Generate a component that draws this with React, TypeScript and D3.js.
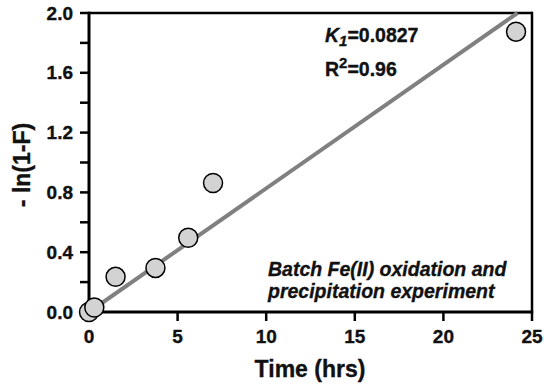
import React from "react";
import * as d3 from "d3";

const timeHrs = [0, 0.3, 1.5, 3.75, 5.6, 7.0, 24.1];
const lnValues = [0.0, 0.03, 0.235, 0.295, 0.497, 0.863, 1.875];
const slopeK = 0.0827;
const xTicks = [0, 5, 10, 15, 20, 25];
const yMajorTicks = [0, 0.4, 0.8, 1.2, 1.6, 2.0];
const yMinorTicks = [0.2, 0.6, 1.0, 1.4, 1.8];

const W = 544, H = 389;
const L = 89, R = 532, T = 13, B = 312;

export default function App() {
  const x = d3.scaleLinear().domain([0, 25]).range([L, R]);
  const y = d3.scaleLinear().domain([0, 2]).range([B, T]);
  const xEnd = 2 / slopeK;
  const fitLine = d3.line<number>().x((d) => x(d)).y((d) => y(slopeK * d))([0, xEnd]);
  const font = "Arial, 'Liberation Sans', Helvetica, sans-serif";
  const txt = { fontWeight: "bold" as const, fill: "#111", stroke: "#111", strokeWidth: 0.35 };
  return (
    <svg width={W} height={H} style={{ position: "absolute", left: 0, top: 0 }} fontFamily={font}>
      <rect x={0} y={0} width={W} height={H} fill="white" />
      {/* frame */}
      <line x1={L} x2={R} y1={T} y2={T} stroke="black" strokeWidth={2.5} />
      <line x1={R} x2={R} y1={T - 1.2} y2={B} stroke="black" strokeWidth={2.5} />
      <line x1={L} x2={R + 1.2} y1={B} y2={B} stroke="black" strokeWidth={3} />
      <line x1={L} x2={L} y1={T - 1.2} y2={B + 1.5} stroke="black" strokeWidth={3} />
      {/* x ticks */}
      {xTicks.map((t) => (
        <g key={"x" + t}>
          <line x1={x(t)} x2={x(t)} y1={B} y2={B + 9} stroke="black" strokeWidth={2.5} />
          <text x={x(t)} y={342.5} textAnchor="middle" fontSize={19} {...txt}>{t}</text>
        </g>
      ))}
      {/* y ticks */}
      {yMajorTicks.map((t) => (
        <g key={"y" + t}>
          <line x1={L - 9} x2={L} y1={y(t)} y2={y(t)} stroke="black" strokeWidth={2.5} />
          <text x={73} y={y(t) + 6.5} textAnchor="end" fontSize={19} {...txt}>{t.toFixed(1)}</text>
        </g>
      ))}
      {yMinorTicks.map((t) => (
        <line key={"m" + t} x1={L - 9} x2={L} y1={y(t)} y2={y(t)} stroke="black" strokeWidth={2.5} />
      ))}
      {/* fit line */}
      <path d={fitLine || ""} stroke="#808080" strokeWidth={4} fill="none" />
      {/* points */}
      {timeHrs.map((t, i) => (
        <circle key={i} cx={x(t)} cy={y(lnValues[i])} r={9.5} fill="#d3d3d3" stroke="black" strokeWidth={1.5} />
      ))}
      {/* annotations */}
      <text x={325} y={41.5} fontSize={19.5} {...txt}>
        <tspan fontStyle="italic">K</tspan>
        <tspan fontStyle="italic" fontSize={15} dy={4}>1</tspan>
        <tspan dy={-4}>=0.0827</tspan>
      </text>
      <text x={325} y={76} fontSize={19.5} {...txt}>
        <tspan>R</tspan>
        <tspan fontSize={15} dy={-8}>2</tspan>
        <tspan dy={8}>=0.96</tspan>
      </text>
      <text x={268} y={275.5} fontStyle="italic" fontSize={19.5} {...txt}>Batch Fe(II) oxidation and</text>
      <text x={268} y={298} fontStyle="italic" fontSize={19.5} {...txt}>precipitation experiment</text>
      {/* axis titles */}
      <text x={310} y={377} textAnchor="middle" fontSize={23} {...txt}>Time (hrs)</text>
      <text transform={`translate(30,165) rotate(-90)`} textAnchor="middle" fontSize={23} {...txt}>- ln(1-F)</text>
    </svg>
  );
}
